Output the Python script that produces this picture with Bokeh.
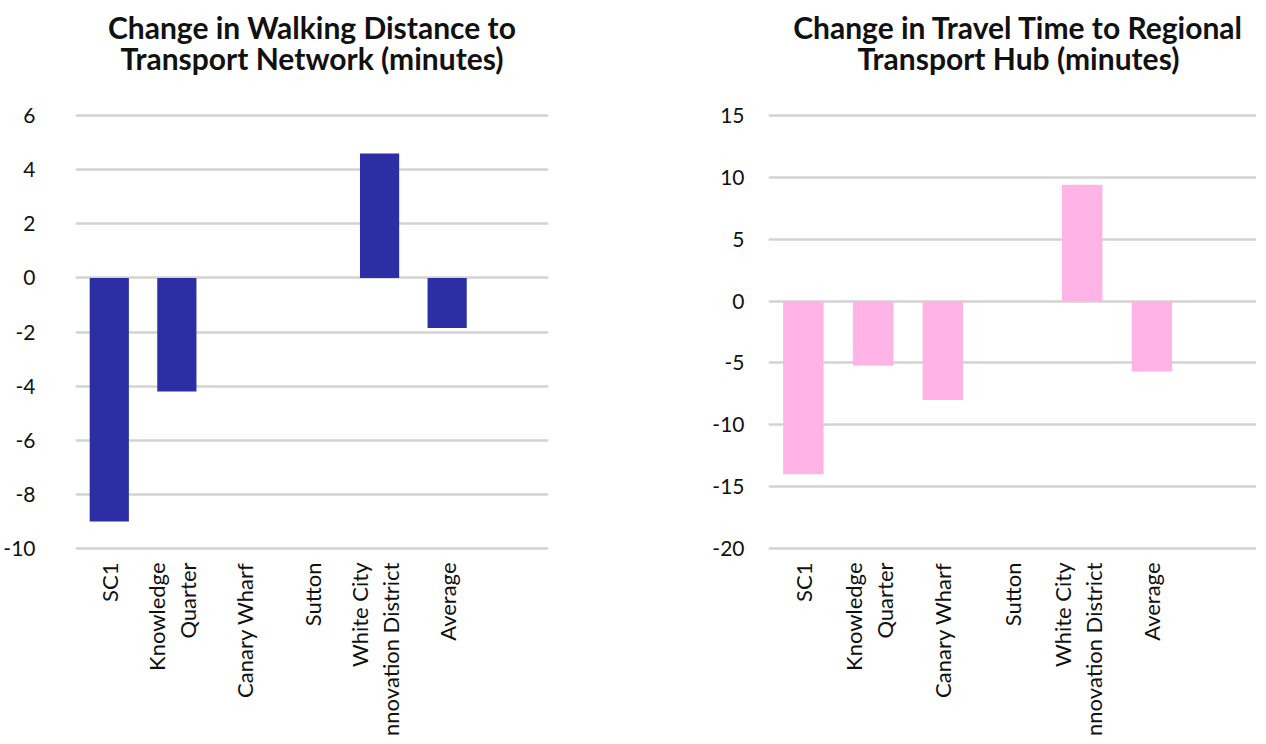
import math
from bokeh.plotting import figure
from bokeh.layouts import row
from bokeh.models import FactorRange, Range1d, FixedTicker, ColumnDataSource
from bokeh.core.properties import value
from bokeh.embed import file_html
from bokeh.resources import INLINE

categories = ["SC1", "Knowledge Quarter", "Canary Wharf", "Sutton",
              "White City Innovation District", "Average"]
label_line1 = ["SC1", "Knowledge", "Canary Wharf", "Sutton", "White City", "Average"]
label_line2 = ["", "Quarter", "", "", "Innovation District", ""]
pad_slot = " "

walking_change = [-9.0, -4.2, 0.0, 0.0, 4.6, -1.85]
travel_change = [-14.0, -5.2, -8.0, 0.0, 9.4, -5.7]

walking_ticks = [-10, -8, -6, -4, -2, 0, 2, 4, 6]
travel_ticks = [-20, -15, -10, -5, 0, 5, 10, 15]

walking_title = ["Change in Walking Distance to", "Transport Network (minutes)"]
travel_title = ["Change in Travel Time to Regional", "Transport Hub (minutes)"]

FONT = "Lato"
TEXT = "#111111"
FIG_H = 736
GRID_PX = 433          # pixel height of the tick span
TOP_PX = 115           # room above the top gridline (title)
TITLE_BASELINES = [-89, -58]   # title line offsets, px from the top gridline
OFF1, OFF2 = -20, 11   # screen x offsets of the two lines of a two-line label


def build(title_lines, values, ticks, color, frame_w, border_left, border_right,
          standoff_y, title_shift):
    src = ColumnDataSource(dict(cat=categories, val=values))
    lo, hi = min(ticks), max(ticks)
    ppu = GRID_PX / (hi - lo)
    y_end = hi + TOP_PX / ppu
    y_start = y_end - FIG_H / ppu
    p = figure(x_range=FactorRange(*(categories + [pad_slot]), range_padding=0),
               y_range=Range1d(y_start, y_end),
               frame_width=frame_w, frame_height=FIG_H,
               output_backend="svg", toolbar_location=None,
               min_border_left=border_left, min_border_right=border_right,
               min_border_top=0, min_border_bottom=0)
    p.vbar(x="cat", top="val", bottom=0, width=0.58, source=src,
           fill_color=color, line_color=None)

    # category labels (rotated, two-line where needed)
    two_line = [bool(l2) for l2 in label_line2]
    lab_src = ColumnDataSource(dict(
        cat=categories, t1=label_line1, t2=label_line2,
        y=[lo] * len(categories),
        off1=[OFF1 if t else 0 for t in two_line],
        off2=[OFF2 if t else 0 for t in two_line]))
    common = dict(x="cat", y="y", source=lab_src, angle=math.pi / 2,
                  text_align="right", text_baseline="middle", y_offset=14,
                  text_font=value(FONT), text_font_size="22px", text_color=TEXT)
    p.text(text="t1", x_offset="off1", **common)
    p.text(text="t2", x_offset="off2", **common)

    # chart title, centred over the plot area
    centre = categories[3]   # middle slot of the seven
    t_src = ColumnDataSource(dict(x=[centre] * len(title_lines), y=[hi] * len(title_lines),
                                  text=title_lines, yo=TITLE_BASELINES[:len(title_lines)]))
    p.text(x="x", y="y", text="text", source=t_src, y_offset="yo", x_offset=title_shift,
           text_align="center", text_baseline="alphabetic",
           text_font=value(FONT), text_font_style="bold", text_font_size="30px",
           text_color=TEXT)

    p.outline_line_color = None
    p.xgrid.visible = False
    p.xaxis.visible = False
    p.ygrid.grid_line_color = "#d3d3d3"
    p.ygrid.grid_line_width = 2.5
    p.yaxis.ticker = FixedTicker(ticks=ticks)
    p.yaxis.major_label_overrides = {t: str(t) for t in ticks}
    ax = p.yaxis[0]
    ax.axis_line_color = None
    ax.major_tick_line_color = None
    ax.minor_tick_line_color = None
    ax.major_tick_out = 0
    ax.major_tick_in = 0
    ax.major_label_text_font = FONT
    ax.major_label_text_color = TEXT
    ax.major_label_text_font_size = "21px"
    ax.major_label_standoff = standoff_y
    return p


p1 = build(walking_title, walking_change, walking_ticks, "#2c2ea3", 473, 73, 90, 40, 0)
p2 = build(travel_title, travel_change, travel_ticks, "#ffb3e6", 488, 130, 0, 24, 6)

layout = row(p1, p2)
open("out.html", "w").write(file_html(layout, INLINE))
